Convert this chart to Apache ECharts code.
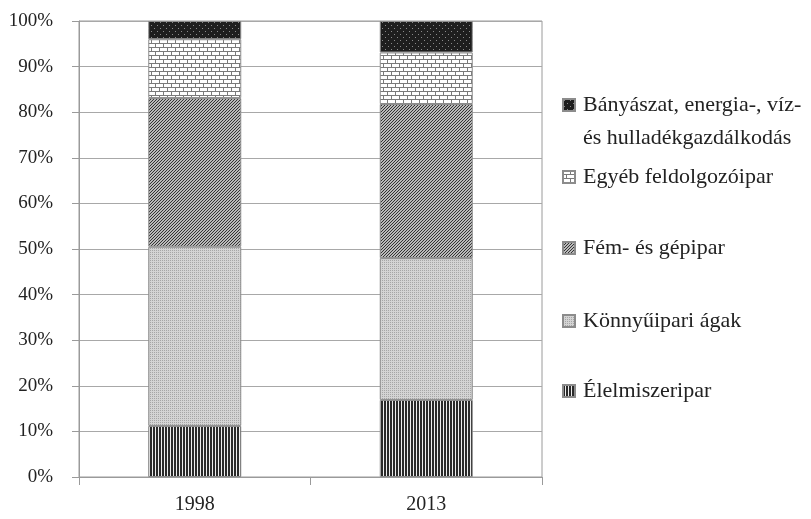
<!DOCTYPE html>
<html>
<head>
<meta charset="utf-8">
<script src="https://cdn.jsdelivr.net/npm/echarts@6/dist/echarts.min.js"></script>
<style>
  html, body { margin: 0; padding: 0; background: #fff; }
  #main { width: 811px; height: 519px; }
</style>
</head>
<body>
<div id="main"></div>
<script>
// adatok
var years = ['1998', '2013'];
var seriesNames = [
  'Élelmiszeripar',
  'Könnyűipari ágak',
  'Fém- és gépipar',
  'Egyéb feldolgozóipar',
  'Bányászat, energia-, víz- és hulladékgazdálkodás'
];
var elelmiszer = [11.2, 16.9];
var konnyuipar = [39.3, 31.1];
var femGep = [32.6, 33.8];
var egyeb = [12.9, 11.3];
var banyaszat = [4.0, 6.9];
var yTicks = [0, 10, 20, 30, 40, 50, 60, 70, 80, 90, 100];

var FONT = '"Liberation Serif", "DejaVu Serif", serif';

// mintázatok canvasból
function pattern(w, h, draw) {
  var c = document.createElement('canvas');
  c.width = w; c.height = h;
  var ctx = c.getContext('2d');
  draw(ctx);
  return { image: c, repeat: 'repeat' };
}

var pStripes = pattern(3, 3, function (ctx) {
  ctx.fillStyle = '#eeeeee'; ctx.fillRect(0, 0, 3, 3);
  ctx.fillStyle = '#2a2a2a'; ctx.fillRect(0, 0, 2, 3);
});
var pDots = pattern(2, 2, function (ctx) {
  ctx.fillStyle = '#d4d4d4'; ctx.fillRect(0, 0, 2, 2);
  ctx.fillStyle = '#a6a6a6'; ctx.fillRect(0, 0, 1, 1);
});
var pDiag = pattern(3, 3, function (ctx) {
  ctx.fillStyle = '#bababa'; ctx.fillRect(0, 0, 3, 3);
  ctx.fillStyle = '#333333';
  for (var x = 0; x < 3; x++) for (var y = 0; y < 3; y++) {
    if ((x + y) % 3 === 0) ctx.fillRect(x, y, 1, 1);
  }
});
var pBrick = pattern(8, 8, function (ctx) {
  ctx.fillStyle = '#7a7a7a'; ctx.fillRect(0, 0, 8, 8);
  ctx.fillStyle = '#ffffff';
  ctx.fillRect(0, 0, 7, 3);
  ctx.fillRect(0, 4, 3, 3);
  ctx.fillRect(4, 4, 4, 3);
});
var pDark = pattern(6, 6, function (ctx) {
  ctx.fillStyle = '#1e1e1e'; ctx.fillRect(0, 0, 6, 6);
  ctx.fillStyle = '#8a8a8a';
  ctx.fillRect(1, 1, 1, 1);
  ctx.fillRect(4, 4, 1, 1);
});

var fills = [pStripes, pDots, pDiag, pBrick, pDark];
var values = [elelmiszer, konnyuipar, femGep, egyeb, banyaszat];

var series = seriesNames.map(function (name, i) {
  return {
    name: name,
    type: 'bar',
    stack: 'total',
    barWidth: 93,
    data: values[i],
    itemStyle: { color: fills[i], borderColor: '#8c8c8c', borderWidth: 1 },
    emphasis: { disabled: true }
  };
});

// jelmagyarázat: elemenként külön, hogy a függőleges helyük pontos legyen
var legendTops = [379, 309, 236, 165, 93];
var legends = seriesNames.map(function (name, i) {
  return {
    data: [name],
    orient: 'vertical',
    left: 562,
    top: legendTops[i],
    padding: 0,
    itemWidth: 12,
    itemHeight: 12,
    icon: 'rect',
    selectedMode: false,
    formatter: i === 4 ? function () { return 'Bányászat, energia-, víz-'; } : '{name}',
    textStyle: {
      fontFamily: FONT, fontSize: 22, color: '#222',
      lineHeight: 24, padding: [0, 0, 0, 3]
    }
  };
});

var myChart = echarts.init(document.getElementById('main'));

var option = {
  animation: false,
  backgroundColor: '#fff',
  grid: {
    left: 79, right: 269, top: 21, bottom: 42,
    show: true, borderColor: '#9a9a9a', borderWidth: 1
  },
  legend: legends,
  graphic: [{
    type: 'text',
    left: 583,
    top: 127,
    style: { text: 'és hulladékgazdálkodás', font: '22px ' + FONT, fill: '#222' }
  }],
  xAxis: {
    type: 'category',
    data: years,
    axisLine: { lineStyle: { color: '#9a9a9a' } },
    axisTick: { show: true, length: 8, lineStyle: { color: '#9a9a9a' } },
    axisLabel: { fontFamily: FONT, fontSize: 20, color: '#222', margin: 18 }
  },
  yAxis: {
    type: 'value',
    min: yTicks[0],
    max: yTicks[yTicks.length - 1],
    interval: 10,
    axisLine: { show: true, lineStyle: { color: '#9a9a9a' } },
    axisTick: { show: true, length: 7, lineStyle: { color: '#9a9a9a' } },
    axisLabel: { fontFamily: FONT, fontSize: 19, color: '#222', margin: 26, formatter: '{value}%' },
    splitLine: { lineStyle: { color: '#a8a8a8' } }
  },
  series: series
};

myChart.setOption(option);
</script>
</body>
</html>
